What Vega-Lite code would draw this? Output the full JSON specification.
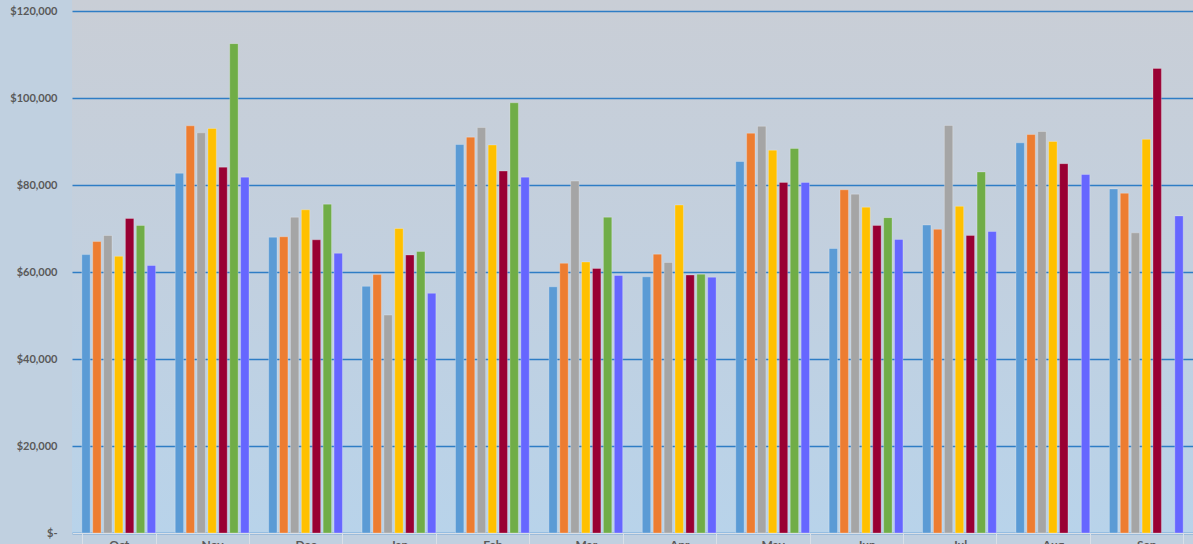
{
  "$schema": "https://vega.github.io/schema/vega-lite/v6.json",
  "width": 1121,
  "height": 533,
  "autosize": {"type": "none"},
  "padding": {"left": 72, "top": 0, "right": 0, "bottom": 30},
  "background": "#C0D0E0",
  "config": {
    "view": {
      "stroke": null,
      "fill": {
        "gradient": "linear",
        "x1": 0, "y1": 0, "x2": 0, "y2": 1,
        "stops": [
          {"offset": 0, "color": "#C9CED6"},
          {"offset": 0.5, "color": "#C2D0DF"},
          {"offset": 1, "color": "#B8D3EA"}
        ]
      }
    },
    "font": "Lato"
  },
  "data": {
    "values": [
      {"month": "Oct", "series": "S1", "value": 64000},
      {"month": "Oct", "series": "S2", "value": 67000},
      {"month": "Oct", "series": "S3", "value": 68400},
      {"month": "Oct", "series": "S4", "value": 63600},
      {"month": "Oct", "series": "S5", "value": 72300},
      {"month": "Oct", "series": "S6", "value": 70700},
      {"month": "Oct", "series": "S7", "value": 61500},
      {"month": "Nov", "series": "S1", "value": 82700},
      {"month": "Nov", "series": "S2", "value": 93600},
      {"month": "Nov", "series": "S3", "value": 92000},
      {"month": "Nov", "series": "S4", "value": 93000},
      {"month": "Nov", "series": "S5", "value": 84100},
      {"month": "Nov", "series": "S6", "value": 112500},
      {"month": "Nov", "series": "S7", "value": 81800},
      {"month": "Dec", "series": "S1", "value": 68000},
      {"month": "Dec", "series": "S2", "value": 68100},
      {"month": "Dec", "series": "S3", "value": 72600},
      {"month": "Dec", "series": "S4", "value": 74300},
      {"month": "Dec", "series": "S5", "value": 67400},
      {"month": "Dec", "series": "S6", "value": 75600},
      {"month": "Dec", "series": "S7", "value": 64300},
      {"month": "Jan", "series": "S1", "value": 56700},
      {"month": "Jan", "series": "S2", "value": 59400},
      {"month": "Jan", "series": "S3", "value": 50100},
      {"month": "Jan", "series": "S4", "value": 70000},
      {"month": "Jan", "series": "S5", "value": 63900},
      {"month": "Jan", "series": "S6", "value": 64700},
      {"month": "Jan", "series": "S7", "value": 55100},
      {"month": "Feb", "series": "S1", "value": 89300},
      {"month": "Feb", "series": "S2", "value": 91000},
      {"month": "Feb", "series": "S3", "value": 93200},
      {"month": "Feb", "series": "S4", "value": 89200},
      {"month": "Feb", "series": "S5", "value": 83200},
      {"month": "Feb", "series": "S6", "value": 98900},
      {"month": "Feb", "series": "S7", "value": 81800},
      {"month": "Mar", "series": "S1", "value": 56600},
      {"month": "Mar", "series": "S2", "value": 62000},
      {"month": "Mar", "series": "S3", "value": 80900},
      {"month": "Mar", "series": "S4", "value": 62300},
      {"month": "Mar", "series": "S5", "value": 60800},
      {"month": "Mar", "series": "S6", "value": 72600},
      {"month": "Mar", "series": "S7", "value": 59200},
      {"month": "Apr", "series": "S1", "value": 58900},
      {"month": "Apr", "series": "S2", "value": 64100},
      {"month": "Apr", "series": "S3", "value": 62200},
      {"month": "Apr", "series": "S4", "value": 75400},
      {"month": "Apr", "series": "S5", "value": 59300},
      {"month": "Apr", "series": "S6", "value": 59500},
      {"month": "Apr", "series": "S7", "value": 58800},
      {"month": "May", "series": "S1", "value": 85400},
      {"month": "May", "series": "S2", "value": 91900},
      {"month": "May", "series": "S3", "value": 93500},
      {"month": "May", "series": "S4", "value": 88000},
      {"month": "May", "series": "S5", "value": 80600},
      {"month": "May", "series": "S6", "value": 88400},
      {"month": "May", "series": "S7", "value": 80600},
      {"month": "Jun", "series": "S1", "value": 65400},
      {"month": "Jun", "series": "S2", "value": 78900},
      {"month": "Jun", "series": "S3", "value": 77900},
      {"month": "Jun", "series": "S4", "value": 74900},
      {"month": "Jun", "series": "S5", "value": 70700},
      {"month": "Jun", "series": "S6", "value": 72500},
      {"month": "Jun", "series": "S7", "value": 67500},
      {"month": "Jul", "series": "S1", "value": 70800},
      {"month": "Jul", "series": "S2", "value": 69800},
      {"month": "Jul", "series": "S3", "value": 93700},
      {"month": "Jul", "series": "S4", "value": 75100},
      {"month": "Jul", "series": "S5", "value": 68400},
      {"month": "Jul", "series": "S6", "value": 83000},
      {"month": "Jul", "series": "S7", "value": 69300},
      {"month": "Aug", "series": "S1", "value": 89700},
      {"month": "Aug", "series": "S2", "value": 91600},
      {"month": "Aug", "series": "S3", "value": 92300},
      {"month": "Aug", "series": "S4", "value": 90000},
      {"month": "Aug", "series": "S5", "value": 84900},
      {"month": "Aug", "series": "S7", "value": 82400},
      {"month": "Sep", "series": "S1", "value": 79100},
      {"month": "Sep", "series": "S2", "value": 78100},
      {"month": "Sep", "series": "S3", "value": 69000},
      {"month": "Sep", "series": "S4", "value": 90500},
      {"month": "Sep", "series": "S5", "value": 106800},
      {"month": "Sep", "series": "S7", "value": 72900}
    ]
  },
  "mark": {"type": "bar", "stroke": "#FFFFFF", "strokeOpacity": 0.25, "strokeWidth": 1},
  "encoding": {
    "x": {
      "field": "month",
      "type": "nominal",
      "sort": ["Oct", "Nov", "Dec", "Jan", "Feb", "Mar", "Apr", "May", "Jun", "Jul", "Aug", "Sep"],
      "scale": {"paddingInner": 0.21, "paddingOuter": 0.105},
      "axis": {
        "title": null,
        "labelAngle": 0,
        "tickBand": "extent",
        "tickSize": 15,
        "tickColor": "#D9E0E8",
        "tickWidth": 1,
        "domainColor": "#D9E0E8",
        "domainWidth": 1,
        "labelPadding": -9,
        "labelFont": "Lato",
        "labelFontSize": 12,
        "labelFontWeight": "bold",
        "labelColor": "#595959",
        "grid": false,
        "zindex": 1
      }
    },
    "xOffset": {
      "field": "series",
      "type": "nominal",
      "scale": {"domain": ["S1", "S2", "S3", "S4", "S5", "S6", "S7"], "paddingInner": 0.23, "paddingOuter": 0}
    },
    "y": {
      "field": "value",
      "type": "quantitative",
      "scale": {"domain": [0, 122529], "nice": false, "zero": true},
      "axis": {
        "title": null,
        "values": [0, 20000, 40000, 60000, 80000, 100000, 120000],
        "labelExpr": "datum.value == 0 ? '$-' : '$' + format(datum.value, ',')",
        "domain": false,
        "ticks": false,
        "labelPadding": 15,
        "labelFont": "Lato",
        "labelFontSize": 11,
        "labelFontWeight": "bold",
        "labelColor": "#595959",
        "grid": true,
        "gridColor": "#2E7DC5",
        "gridWidth": 1.5,
        "gridOpacity": 1
      }
    },
    "color": {
      "field": "series",
      "type": "nominal",
      "scale": {
        "domain": ["S1", "S2", "S3", "S4", "S5", "S6", "S7"],
        "range": ["#5B9BD5", "#ED7D31", "#A5A5A5", "#FFC000", "#990033", "#70AD47", "#6666FF"]
      },
      "legend": null
    }
  }
}
